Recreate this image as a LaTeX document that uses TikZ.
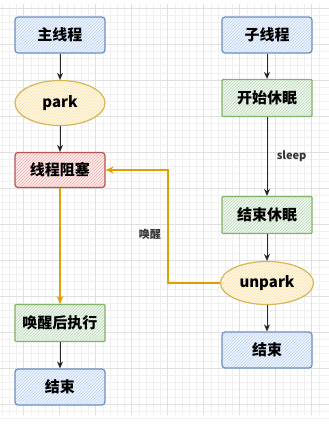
\documentclass[tikz,border=0pt]{standalone}
\usepackage{fontspec}
\setmainfont{Noto Sans CJK SC}
\usetikzlibrary{arrows.meta,shapes.geometric,patterns}
\definecolor{bluefill}{HTML}{EEF4FD}
\definecolor{bluehatch}{HTML}{BCD2F2}
\definecolor{blueline}{HTML}{6C8EBF}
\definecolor{greenfill}{HTML}{EEF6EE}
\definecolor{greenhatch}{HTML}{BCDAB9}
\definecolor{greenline}{HTML}{82B366}
\definecolor{redfill}{HTML}{FCEDEC}
\definecolor{redhatch}{HTML}{F0B0AC}
\definecolor{redline}{HTML}{B85450}
\definecolor{yelfill}{HTML}{FFF9EA}
\definecolor{yelhatch}{HTML}{F8E0A0}
\definecolor{yelline}{HTML}{D6B656}
\definecolor{orangeln}{HTML}{E0A000}
\definecolor{gridminor}{HTML}{F0F0F0}
\definecolor{gridmajor}{HTML}{E0E0E0}
\tikzset{
  x=1pt, y=-1pt,
  base/.style={draw, line width=1.2pt, minimum width=90pt, inner sep=0pt,
    font=\bfseries\fontsize{15}{15}\selectfont},
  bluebox/.style={base, rounded corners=3pt, minimum height=36pt, draw=blueline,
    preaction={fill=bluefill}, pattern=north east lines, pattern color=bluehatch},
  greenbox/.style={base, rounded corners=1pt, minimum height=37pt, draw=greenline,
    preaction={fill=greenfill}, pattern=north east lines, pattern color=greenhatch},
  redbox/.style={base, rounded corners=3pt, minimum height=35pt, draw=redline,
    preaction={fill=redfill}, pattern=north east lines, pattern color=redhatch},
  yelell/.style={base, ellipse, draw=yelline, minimum height=45pt,
    preaction={fill=yelfill}, pattern=north east lines, pattern color=yelhatch},
  arr/.style={-{Stealth[length=7pt,width=6pt]}, line width=1pt, black!85},
  oarr/.style={-{Stealth[length=8pt,width=7pt]}, line width=1.5pt, orangeln},
  lbl/.style={font=\bfseries\fontsize{11}{11}\selectfont, text=black!80},
}
\begin{document}
\begin{tikzpicture}
\useasboundingbox (0,0) rectangle (329,424);
\fill[white] (0,0) rectangle (329,424);
% grid
\foreach \i in {0,...,46} {
  \draw[gridminor, line width=0.5pt] ({-12.3+7.2*\i},4) -- ({-12.3+7.2*\i},415);
}
\foreach \j in {0,...,57} {
  \draw[gridminor, line width=0.5pt] (0,{8+7.2*\j}) -- (329,{8+7.2*\j});
}
\foreach \i in {0,...,9} {
  \draw[gridmajor, line width=0.7pt] ({23.7+36*\i},4) -- ({23.7+36*\i},415);
}
\foreach \j in {0,...,11} {
  \draw[gridmajor, line width=0.7pt] (0,{8+36*\j}) -- (329,{8+36*\j});
}
% left column
\node[bluebox] (m1) at (60,35) {主线程};
\node[yelell] (park) at (60,103) {park};
\node[redbox] (blk) at (60,170) {线程阻塞};
\node[greenbox] (wake) at (60,323) {唤醒后执行};
\node[bluebox] (e1) at (60,387) {结束};
% right column
\node[bluebox] (s1) at (267,35) {子线程};
\node[greenbox] (sl) at (267,98) {开始休眠};
\node[greenbox] (se) at (267,215) {结束休眠};
\node[yelell, minimum width=93pt, minimum height=43pt] (up) at (267,283) {unpark};
\node[bluebox] (e2) at (267,350) {结束};
% connectors
\draw[arr] (m1) -- (park);
\draw[arr] (park) -- (blk);
\draw[arr] (wake) -- (e1);
\draw[arr] (s1) -- (sl);
\draw[arr] (sl) -- node[lbl, right=6pt] {sleep} (se);
\draw[arr] (se) -- (up);
\draw[arr] (up) -- (e2);
\draw[oarr] (blk) -- (wake);
\coordinate (c1) at (168,283);
\coordinate (c2) at (168,170);
\draw[oarr] (up.west) -- (c1) -- (c2) -- (blk.east);
\node[lbl] (wl) at (150,234) {唤醒};
\end{tikzpicture}
\end{document}
